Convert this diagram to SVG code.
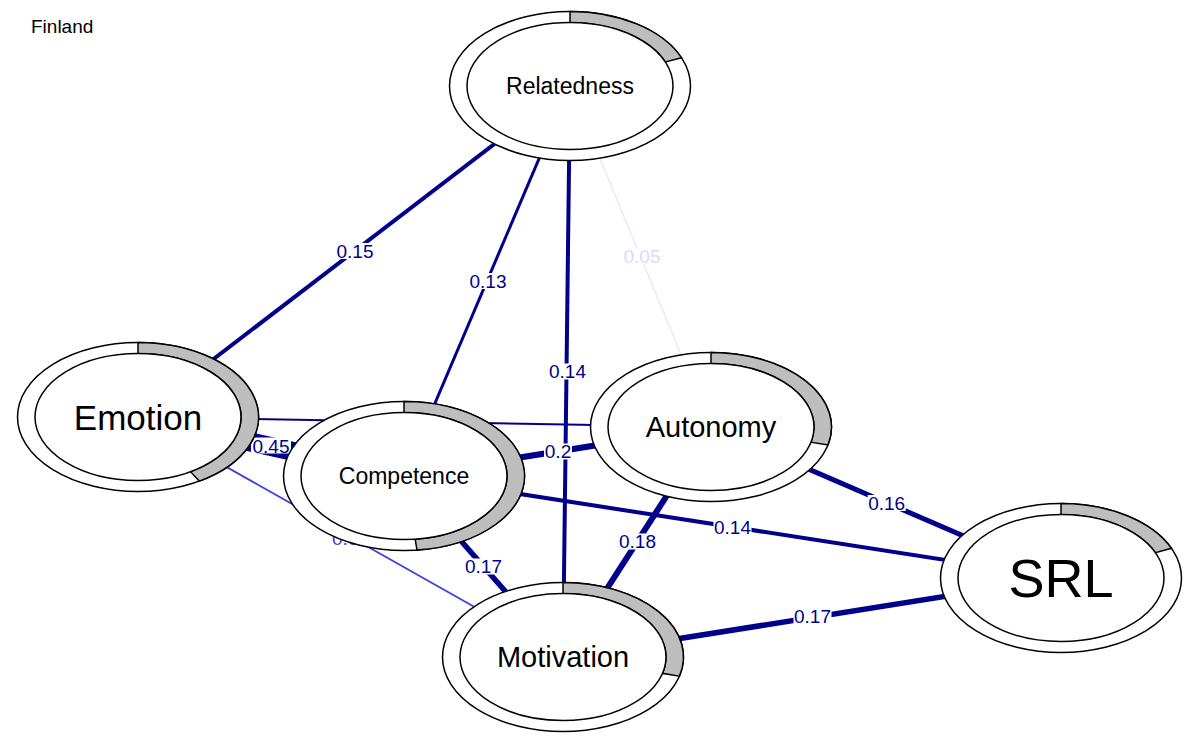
<svg xmlns="http://www.w3.org/2000/svg" width="1200" height="742" viewBox="0 0 1200 742">
<style>
.bg{fill:#ffffff}
.e{fill:none;stroke:#00008B;stroke-linecap:butt}
.lb{fill:#ffffff;stroke:none}
.lt{font-family:"Liberation Sans",Arial,sans-serif;font-size:19px;fill:#00008B;text-anchor:middle}
.outer{fill:#ffffff;stroke:#000000;stroke-width:1.5}
.inner{fill:#ffffff;stroke:#000000;stroke-width:1.5}
.pie{fill:#BEBEBE;stroke:#000000;stroke-width:1.5;stroke-linejoin:miter}
.nt{font-family:"Liberation Sans",Arial,sans-serif;fill:#000000;text-anchor:middle}
</style>
<rect class="bg" x="0" y="0" width="1200" height="742"/>
<text x="31" y="33" font-family="Liberation Sans, Arial, sans-serif" font-size="19" fill="#000000">Finland</text>
<g id="edges">
  <line class="e" x1="570" y1="86" x2="711" y2="427" style="stroke:#E3E3FB;stroke-width:1.2"/>
  <line class="e" x1="138" y1="417" x2="563" y2="657" style="stroke:#4040E0;stroke-width:1.8"/>
  <line class="e" x1="138" y1="417" x2="711" y2="427" stroke-width="2"/>
  <line class="e" x1="570" y1="86" x2="138" y2="417" stroke-width="4"/>
  <line class="e" x1="570" y1="86" x2="404" y2="476" stroke-width="3"/>
  <line class="e" x1="138" y1="417" x2="404" y2="476" stroke-width="19"/>
  <line class="e" x1="404" y1="476" x2="1061" y2="578" stroke-width="4"/>
  <line class="e" x1="404" y1="476" x2="711" y2="427" stroke-width="6"/>
  <line class="e" x1="404" y1="476" x2="563" y2="657" stroke-width="5.5"/>
  <line class="e" x1="711" y1="427" x2="563" y2="657" stroke-width="6"/>
  <line class="e" x1="711" y1="427" x2="1061" y2="578" stroke-width="5"/>
  <line class="e" x1="563" y1="657" x2="1061" y2="578" stroke-width="5.5"/>
  <line class="e" x1="570" y1="86" x2="563" y2="657" stroke-width="4"/>
  <g id="edge-labels">
    <rect class="lb" x="336" y="243" width="38" height="16"/>
    <text class="lt" x="355" y="258">0.15</text>
    <rect class="lb" x="469" y="273" width="38" height="16"/>
    <text class="lt" x="488" y="288">0.13</text>
    <rect class="lb" x="548.5" y="363.5" width="38" height="16"/>
    <text class="lt" x="567.5" y="378.3">0.14</text>
    <rect class="lb" x="623" y="248.5" width="38" height="16"/>
    <text class="lt" x="642" y="263.3" style="fill:#DADAF8">0.05</text>
    <rect class="lb" x="331.5" y="530" width="38" height="16"/>
    <text class="lt" x="350.5" y="545" style="fill:#4040E0">0.08</text>
    <rect class="lb" x="251" y="437.5" width="40" height="16"/>
    <text class="lt" x="271" y="452.5">0.45</text>
    <rect class="lb" x="544" y="443.5" width="28" height="16"/>
    <text class="lt" x="558" y="458.3">0.2</text>
    <rect class="lb" x="464.5" y="558.5" width="38" height="16"/>
    <text class="lt" x="483.5" y="573.3">0.17</text>
    <rect class="lb" x="713.5" y="519" width="38" height="16"/>
    <text class="lt" x="732.5" y="534">0.14</text>
    <rect class="lb" x="618.5" y="533.5" width="38" height="16"/>
    <text class="lt" x="637.5" y="548.3">0.18</text>
    <rect class="lb" x="867.7" y="495" width="38" height="16"/>
    <text class="lt" x="886.7" y="510">0.16</text>
    <rect class="lb" x="793.5" y="608.5" width="38" height="16"/>
    <text class="lt" x="812.5" y="623.3">0.17</text>
  </g>
</g>
<g id="node-relatedness">
  <ellipse class="outer" cx="570" cy="86" rx="120.5" ry="74.5"/>
  <path class="pie" d="M570,11.5 A120.5,74.5 0 0 1 681.57,57.85 L665.37,62.01 A103,63.5 0 0 0 570,22.5 Z"/>
  <ellipse class="inner" cx="570" cy="86" rx="103" ry="63.5"/>
  <text class="nt" x="570" y="94.2" font-size="23">Relatedness</text>
</g>
<g id="node-emotion">
  <ellipse class="outer" cx="138" cy="417" rx="120.5" ry="74.5"/>
  <path class="pie" d="M138,342.5 A120.5,74.5 0 0 1 199.33,481.12 L190.43,471.65 A103,63.5 0 0 0 138,353.5 Z"/>
  <ellipse class="inner" cx="138" cy="417" rx="103" ry="63.5"/>
  <text class="nt" x="138" y="429.5" font-size="35">Emotion</text>
</g>
<g id="node-competence">
  <ellipse class="outer" cx="404" cy="476" rx="120.5" ry="74.5"/>
  <path class="pie" d="M404,401.5 A120.5,74.5 0 0 1 417.01,550.07 L415.12,539.13 A103,63.5 0 0 0 404,412.5 Z"/>
  <ellipse class="inner" cx="404" cy="476" rx="103" ry="63.5"/>
  <text class="nt" x="404" y="484.2" font-size="23">Competence</text>
</g>
<g id="node-autonomy">
  <ellipse class="outer" cx="711" cy="427" rx="120.5" ry="74.5"/>
  <path class="pie" d="M711,352.5 A120.5,74.5 0 0 1 827.97,444.89 L810.98,442.25 A103,63.5 0 0 0 711,363.5 Z"/>
  <ellipse class="inner" cx="711" cy="427" rx="103" ry="63.5"/>
  <text class="nt" x="711" y="437.4" font-size="29">Autonomy</text>
</g>
<g id="node-srl">
  <ellipse class="outer" cx="1061" cy="578" rx="120.5" ry="74.5"/>
  <path class="pie" d="M1061,503.5 A120.5,74.5 0 0 1 1171.51,548.3 L1155.46,552.68 A103,63.5 0 0 0 1061,514.5 Z"/>
  <ellipse class="inner" cx="1061" cy="578" rx="103" ry="63.5"/>
  <text class="nt" x="1061" y="597.3" font-size="54">SRL</text>
</g>
<g id="node-motivation">
  <ellipse class="outer" cx="563" cy="657" rx="120.5" ry="74.5"/>
  <path class="pie" d="M563,582.5 A120.5,74.5 0 0 1 679.45,676.15 L662.54,673.33 A103,63.5 0 0 0 563,593.5 Z"/>
  <ellipse class="inner" cx="563" cy="657" rx="103" ry="63.5"/>
  <text class="nt" x="563" y="667.4" font-size="29">Motivation</text>
</g>
</svg>
